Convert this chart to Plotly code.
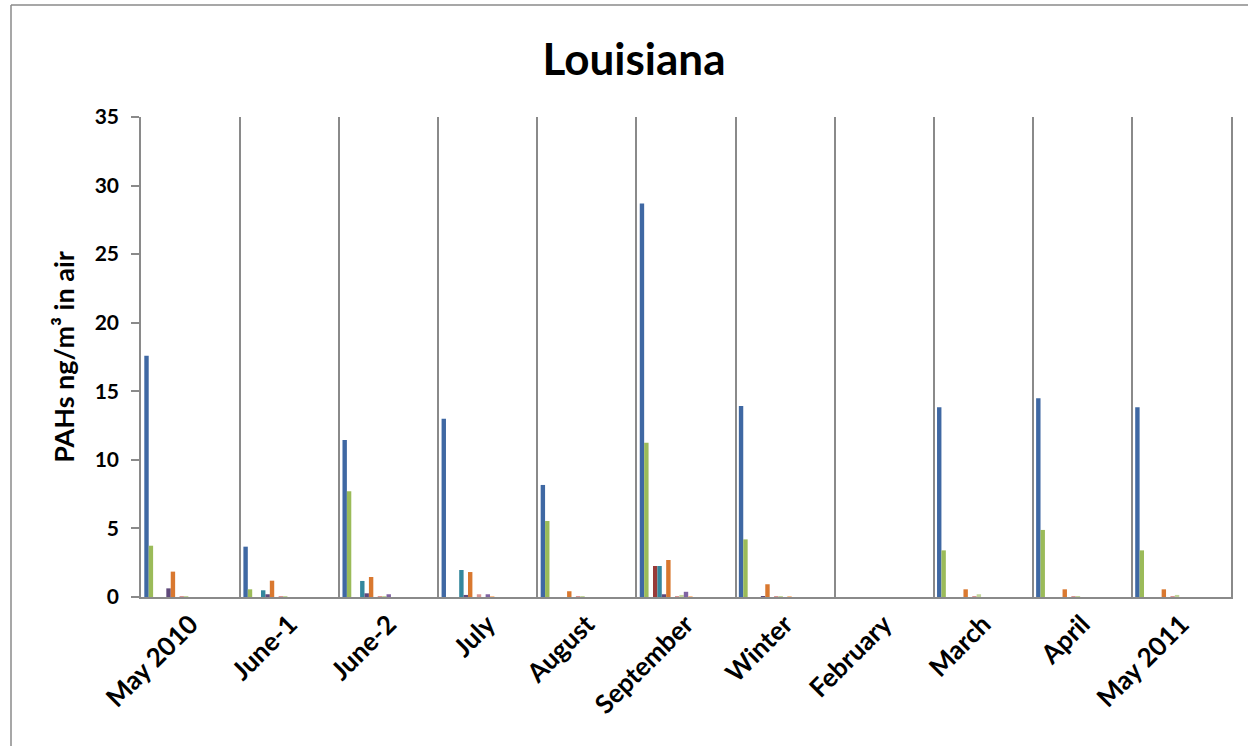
import plotly.graph_objects as go

# Sampling periods (categories on the x axis)
months = ["May 2010", "June-1", "June-2", "July", "August", "September",
          "Winter", "February", "March", "April", "May 2011"]

# PAH concentrations (ng/m3) per compound group, one list per series
pah_01 = [17.6, 3.67, 11.45, 13.0, 8.17, 28.7, 13.93, 0, 13.83, 14.5, 13.83]
pah_02 = [3.74, 0.56, 7.71, 0, 5.54, 11.25, 4.2, 0, 3.4, 4.89, 3.4]
pah_03 = [0, 0, 0, 0, 0, 0, 0, 0, 0, 0, 0]
pah_04 = [0, 0, 0, 0, 0, 2.26, 0, 0, 0, 0, 0]
pah_05 = [0, 0.49, 1.17, 1.97, 0, 2.26, 0, 0, 0, 0, 0]
pah_06 = [0.63, 0.2, 0.27, 0.15, 0, 0.2, 0.05, 0, 0, 0, 0]
pah_07 = [1.85, 1.19, 1.46, 1.82, 0.42, 2.7, 0.93, 0, 0.56, 0.56, 0.56]
pah_08 = [0, 0, 0, 0, 0, 0, 0, 0, 0, 0, 0]
pah_09 = [0.05, 0.05, 0.05, 0.2, 0.05, 0.05, 0.05, 0, 0.05, 0.05, 0.05]
pah_10 = [0.05, 0.05, 0.05, 0, 0.05, 0.15, 0.05, 0, 0.2, 0.05, 0.15]
pah_11 = [0, 0, 0.2, 0.2, 0, 0.38, 0, 0, 0, 0, 0]
pah_12 = [0, 0, 0, 0.05, 0, 0.05, 0.05, 0, 0, 0, 0]
pah_13 = [0, 0, 0, 0, 0, 0, 0, 0, 0, 0, 0]
pah_14 = [0, 0, 0, 0, 0, 0, 0, 0, 0, 0, 0]
pah_15 = [0, 0, 0, 0, 0, 0, 0, 0, 0, 0, 0]
pah_16 = [0, 0, 0, 0, 0, 0, 0, 0, 0, 0, 0]
pah_17 = [0, 0, 0, 0, 0, 0, 0, 0, 0, 0, 0]
pah_18 = [0, 0, 0, 0, 0, 0, 0, 0, 0, 0, 0]
pah_19 = [0, 0, 0, 0, 0, 0, 0, 0, 0, 0, 0]
pah_20 = [0, 0, 0, 0, 0, 0, 0, 0, 0, 0, 0]
pah_21 = [0, 0, 0, 0, 0, 0, 0, 0, 0, 0, 0]

series = [pah_01, pah_02, pah_03, pah_04, pah_05, pah_06, pah_07,
          pah_08, pah_09, pah_10, pah_11, pah_12, pah_13, pah_14,
          pah_15, pah_16, pah_17, pah_18, pah_19, pah_20, pah_21]

colors = ["#3F68A3", "#9BBB59", "#C0504D", "#983A38", "#34879D", "#5F497A",
          "#D9782F", "#2C4D75", "#D99694", "#C3D69B", "#8064A2", "#FAC090",
          "#729ACA", "#CD7371", "#AFC97A", "#9983B5", "#6FBDD1", "#F9AB6B",
          "#4F81BD", "#F79646", "#4BACC6"]

FONT = "Lato"
GRID = "#8a8a8a"

fig = go.Figure()
for i, vals in enumerate(series):
    fig.add_trace(go.Bar(
        x=months, y=vals, name=f"PAH {i + 1}",
        marker=dict(color=colors[i], line=dict(width=0)),
    ))

W, H = 1248, 746
L, R, T, B = 141, 17, 117, 149
pw, ph = W - L - R, H - T - B


def px_to_paper(px, py):
    return (px - L) / pw, (H - B - py) / ph


# chart-area frame (left and top edges)
x0, y0 = px_to_paper(11, 5)
x1, _ = px_to_paper(1260, 5)
_, y1 = px_to_paper(11, 760)
fig.add_shape(type="line", xref="paper", yref="paper", x0=x0, y0=y0, x1=x1, y1=y0,
              line=dict(color=GRID, width=1.5))
fig.add_shape(type="line", xref="paper", yref="paper", x0=x0, y0=y0, x1=x0, y1=y1,
              line=dict(color=GRID, width=1.5))

fig.update_layout(
    width=W, height=H,
    margin=dict(l=L, r=R, t=T, b=B),
    paper_bgcolor="white", plot_bgcolor="white",
    barmode="group", bargap=1.5 / 22.5, bargroupgap=0,
    showlegend=False,
    font=dict(family=FONT, color="black"),
    title=dict(text="<b>Louisiana</b>", x=634 / W, xanchor="center",
               y=1 - 60 / H, yanchor="middle", yref="container",
               font=dict(family=FONT, size=44, color="black")),
    xaxis=dict(
        type="category", tickson="boundaries", showgrid=True,
        gridcolor=GRID, gridwidth=1.5,
        showline=True, linecolor=GRID, linewidth=1.5,
        ticks="", tickangle=-45,
        tickfont=dict(family=FONT, size=26, color="black", weight="bold"),
        range=[-0.5, len(months) - 0.5],
    ),
    yaxis=dict(
        range=[0, 35], dtick=5, showgrid=False, zeroline=False,
        showline=True, linecolor=GRID, linewidth=1.5, mirror=True,
        ticks="outside", ticklen=8, tickcolor=GRID, tickwidth=1.5,
        ticklabelstandoff=8,
        tickfont=dict(family=FONT, size=21, color="black", weight="bold"),
        title=dict(text="<b>PAHs ng/m³ in air</b>", standoff=12,
                   font=dict(family=FONT, size=27, color="black")),
    ),
)

fig.write_html("out.html")
